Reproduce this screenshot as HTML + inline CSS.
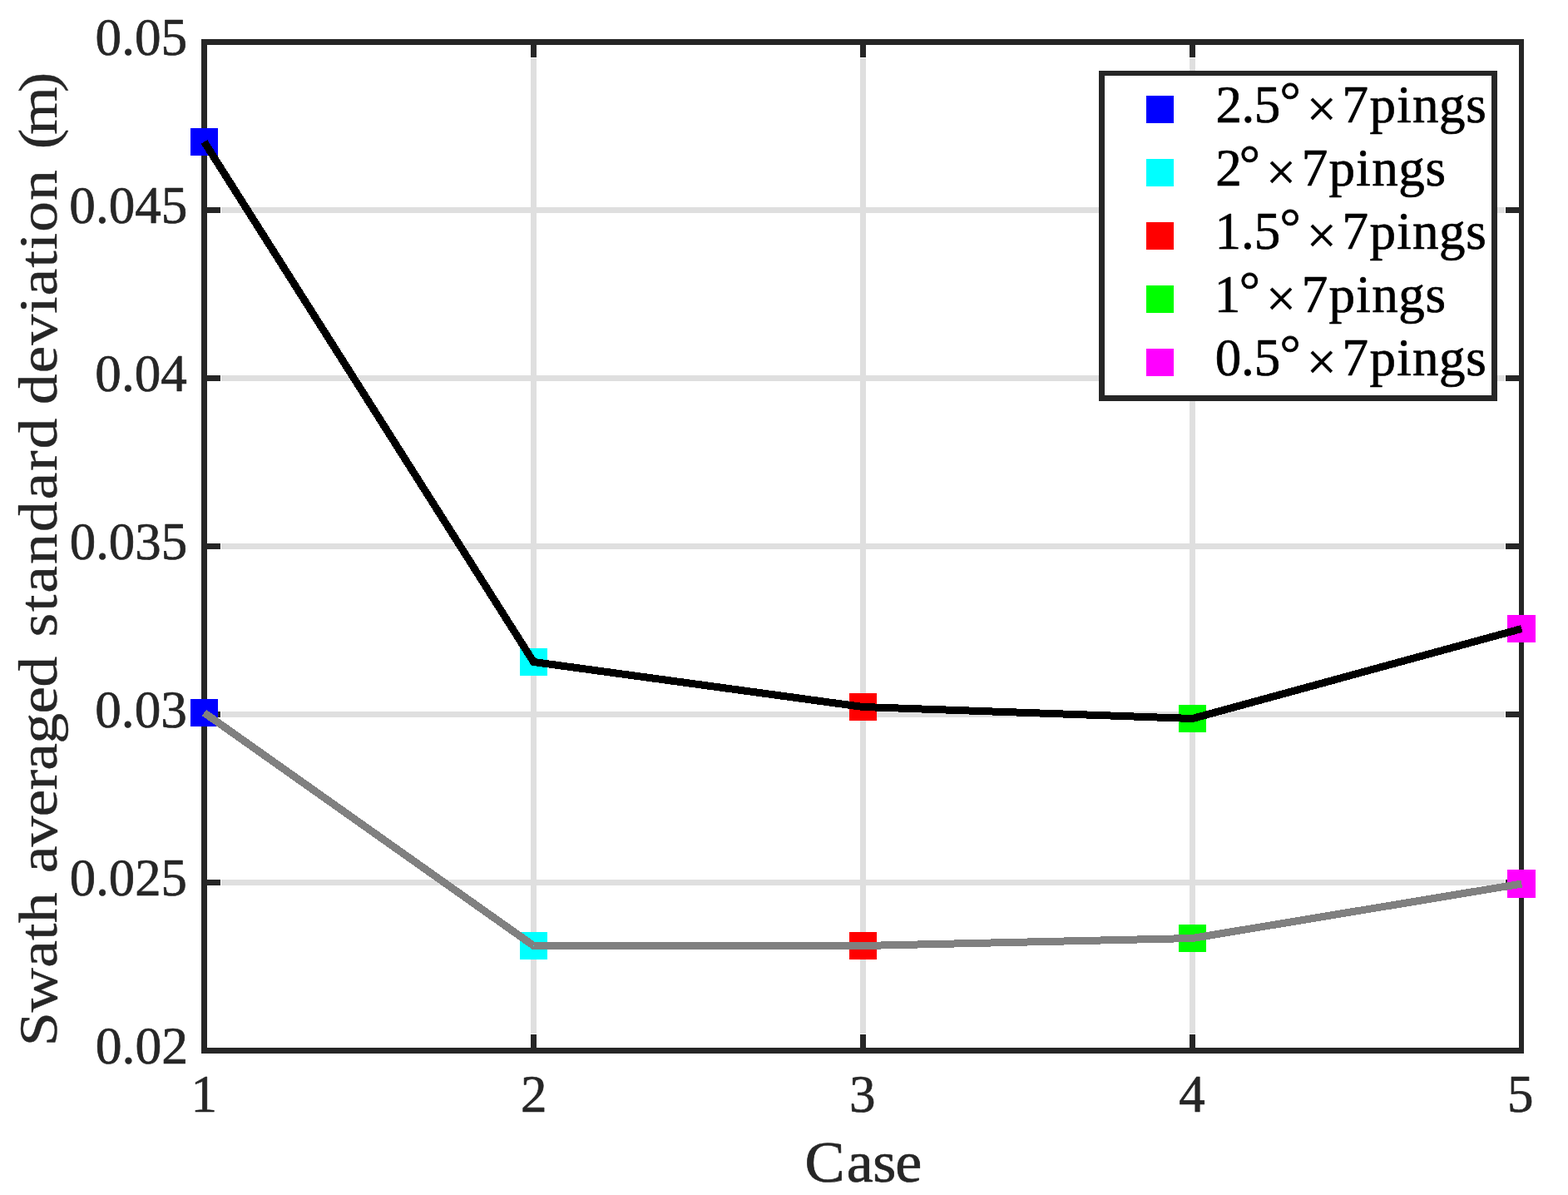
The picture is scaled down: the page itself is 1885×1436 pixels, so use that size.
<!DOCTYPE html>
<html lang="en"><head><meta charset="utf-8"><title>Swath averaged standard deviation</title>
<style>
html,body{margin:0;padding:0;background:#fff;}
body{width:1885px;height:1436px;overflow:hidden;}
svg{display:block;}
text{font-family:"Liberation Serif", serif;white-space:pre;stroke-linejoin:round;}
svg{stroke-width:0.7;}
.tk{fill:#262626;stroke:#262626;}
.lg{fill:#000;stroke:#000;}
</style></head><body>
<svg width="1885" height="1436" viewBox="0 0 1885 1436">
<rect x="0" y="0" width="1885" height="1436" fill="#fff"/>
<g fill="#dfdfdf" shape-rendering="crispEdges">
<rect x="638" y="70" width="7" height="1172"/>
<rect x="1034" y="70" width="7" height="1172"/>
<rect x="1430" y="70" width="7" height="1172"/>
<rect x="266" y="249" width="1543" height="7"/>
<rect x="266" y="451" width="1543" height="7"/>
<rect x="266" y="653" width="1543" height="7"/>
<rect x="266" y="855" width="1543" height="7"/>
<rect x="266" y="1057" width="1543" height="7"/>
</g>
<g fill="#262626" shape-rendering="crispEdges">
<rect x="242" y="47" width="1590" height="7"/>
<rect x="242" y="1259" width="1590" height="7"/>
<rect x="242" y="47" width="7" height="1219"/>
<rect x="1826" y="47" width="6" height="1219"/>
<rect x="638" y="54" width="7" height="15"/>
<rect x="638" y="1243" width="7" height="16"/>
<rect x="1034" y="54" width="7" height="15"/>
<rect x="1034" y="1243" width="7" height="16"/>
<rect x="1430" y="54" width="7" height="15"/>
<rect x="1430" y="1243" width="7" height="16"/>
<rect x="249" y="249" width="16" height="7"/>
<rect x="1810" y="249" width="16" height="7"/>
<rect x="249" y="451" width="16" height="7"/>
<rect x="1810" y="451" width="16" height="7"/>
<rect x="249" y="653" width="16" height="7"/>
<rect x="1810" y="653" width="16" height="7"/>
<rect x="249" y="855" width="16" height="7"/>
<rect x="1810" y="855" width="16" height="7"/>
<rect x="249" y="1057" width="16" height="7"/>
<rect x="1810" y="1057" width="16" height="7"/>
</g>
<g shape-rendering="crispEdges">
<rect x="229" y="154" width="33" height="33" fill="#0000ff"/>
<rect x="625" y="779" width="33" height="33" fill="#00ffff"/>
<rect x="1021" y="833" width="33" height="33" fill="#ff0000"/>
<rect x="1417" y="847" width="33" height="33" fill="#00ff00"/>
<rect x="1812" y="739" width="34" height="33" fill="#ff00ff"/>
<rect x="229" y="840" width="33" height="33" fill="#0000ff"/>
<rect x="625" y="1120" width="33" height="33" fill="#00ffff"/>
<rect x="1021" y="1120" width="33" height="33" fill="#ff0000"/>
<rect x="1417" y="1111" width="33" height="33" fill="#00ff00"/>
<rect x="1812" y="1045" width="34" height="34" fill="#ff00ff"/>
<polyline points="245.5,170.5 641.5,795.5 1037.5,849.5 1433.5,863.5 1829.3,755.5" fill="none" stroke="#000000" stroke-width="9" stroke-linejoin="miter" stroke-linecap="butt"/>
<polyline points="245.5,856.5 641.5,1136.5 1037.5,1136.5 1433.5,1127.5 1829.3,1062" fill="none" stroke="#808080" stroke-width="9" stroke-linejoin="miter" stroke-linecap="butt"/>
<rect x="1321" y="85" width="479" height="397" fill="#262626"/>
<rect x="1328" y="91" width="465" height="384" fill="#fff"/>
<rect x="1378" y="115" width="33" height="33" fill="#0000ff"/>
<rect x="1378" y="191" width="33" height="33" fill="#00ffff"/>
<rect x="1378" y="267" width="33" height="33" fill="#ff0000"/>
<rect x="1378" y="343" width="33" height="33" fill="#00ff00"/>
<rect x="1378" y="419" width="33" height="33" fill="#ff00ff"/>
</g>
<text class="tk" transform="translate(114.54 66.00) scale(1.0030 1.0000)" font-size="63">0.05</text>
<text class="tk" transform="translate(83.34 268.00) scale(1.0016 1.0000)" font-size="63">0.045</text>
<text class="tk" transform="translate(114.34 470.00) scale(1.0022 1.0000)" font-size="63">0.04</text>
<text class="tk" transform="translate(83.75 672.00) scale(0.9973 1.0000)" font-size="63">0.035</text>
<text class="tk" transform="translate(114.24 874.00) scale(1.0040 1.0000)" font-size="63">0.03</text>
<text class="tk" transform="translate(83.86 1076.00) scale(0.9951 1.0000)" font-size="63">0.025</text>
<text class="tk" transform="translate(114.72 1278.00) scale(1.0108 1.0000)" font-size="63">0.02</text>
<text class="tk" transform="translate(229.61 1336.00) scale(1.0000 1.0000)" font-size="63" dx="-0.24">1</text>
<text class="tk" transform="translate(626.28 1336.00) scale(1.0000 1.0000)" font-size="63" dx="-0.28">2</text>
<text class="tk" transform="translate(1021.12 1336.00) scale(1.0000 1.0000)" font-size="63" dx="-0.1">3</text>
<text class="tk" transform="translate(1418.02 1336.00) scale(1.0000 1.0000)" font-size="63" dx="-0.89">4</text>
<text class="tk" transform="translate(1812.38 1336.00) scale(1.0000 1.0000)" font-size="63" dx="-0.28">5</text>
<text class="tk" transform="translate(967.31 1420.00) scale(1.0450 1.0200)" font-size="69" dx="0.15 2.03 -0.42 -0.93">Case</text>
<text class="tk" transform="translate(68.20 1257.33) rotate(-90) scale(1.0706 0.9500)" font-size="69" dx="0 0.05 0.05 0.05 0.05 0 4.29 -0.82 -0.82 -0.82 -0.82 -0.82 -0.82 -0.82 0 4.51 1.69 1.69 1.69 1.69 1.69 1.69 1.69 0 -1.97 0.85 0.85 0.85 0.85 0.85 0.85 0.85 0.85 0 5.79 -6.54 -6.54" stroke-width="0.4">Swath averaged standard deviation (m)</text>
<text class="lg" transform="translate(1461.43 147.00) scale(1.0000 1.0000)" font-size="63" dx="0 -0.48 -0.48 -0.68 7.33 6.89 1.41 1.25 1.37 0.54 0.64" y="0 0 0 -4.8 5.45 0 0 0 0 0 0">2.5°×7pings</text>
<text class="lg" transform="translate(1461.43 223.00) scale(1.0000 1.0000)" font-size="63" dx="-0.3 -2.89 7.33 6.89 1.41 1.25 1.37 0.54 0.64" y="0 -4.8 5.45 0 0 0 0 0 0">2°×7pings</text>
<text class="lg" transform="translate(1460.61 299.00) scale(1.0000 1.0000)" font-size="63" dx="0 -0.07 -0.07 -0.68 7.33 6.89 1.41 1.25 1.37 0.54 0.64" y="0 0 0 -4.8 5.45 0 0 0 0 0 0">1.5°×7pings</text>
<text class="lg" transform="translate(1460.61 375.00) scale(1.0000 1.0000)" font-size="63" dx="-0.84 -1.53 7.33 6.89 1.41 1.25 1.37 0.54 0.64" y="0 -4.8 5.45 0 0 0 0 0 0">1°×7pings</text>
<text class="lg" transform="translate(1460.65 451.00) scale(1.0000 1.0000)" font-size="63" dx="0 -0.09 -0.09 -0.68 7.33 6.89 1.41 1.25 1.37 0.54 0.64" y="0 0 0 -4.8 5.45 0 0 0 0 0 0">0.5°×7pings</text>
</svg>
</body></html>
